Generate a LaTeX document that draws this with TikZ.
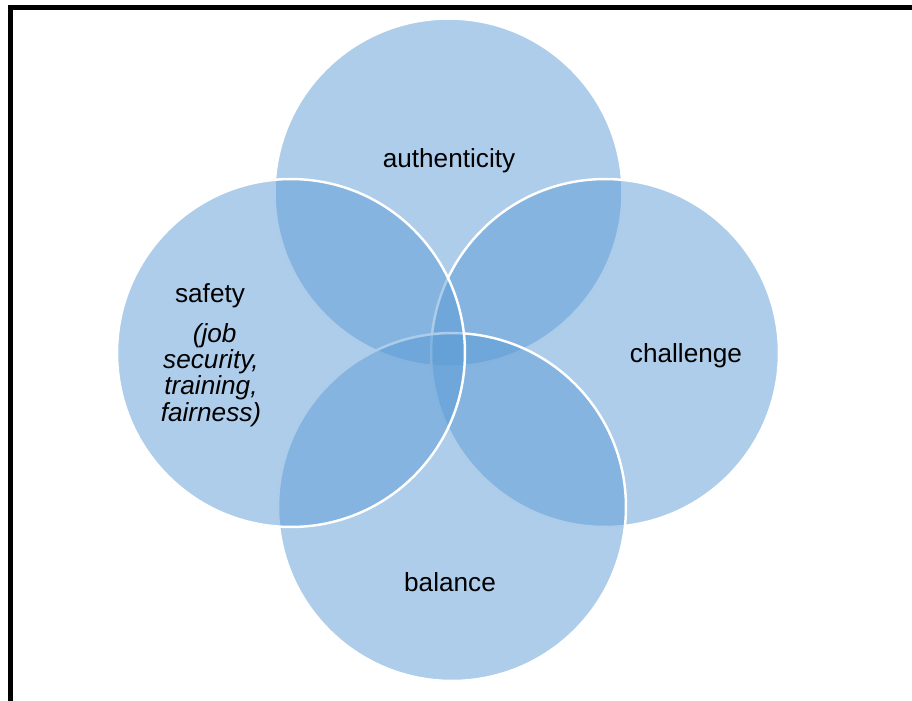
\documentclass[tikz,border=0pt]{standalone}
\usepackage{fontspec}
\setmainfont{Liberation Sans}
\usepackage{tikz}
\usetikzlibrary{positioning}

\definecolor{ringblue}{RGB}{91,155,213}

\begin{document}
\begin{tikzpicture}[x=0.02cm, y=-0.02cm,
        ring/.style={circle, minimum size=6.96cm, inner sep=0pt, fill=ringblue, fill opacity=0.5, draw=white, line width=1.4pt},
        word/.style={inner sep=0pt, font=\fontsize{14.9}{15}\selectfont}]
        \useasboundingbox (0, 0) rectangle (912, 700);
        \clip (0, 0) rectangle (912, 700);
        \draw[line width=2.8pt] (10.8, 1000) -- (10.8, 7.8) -- (1200, 7.8);
        % the four circles, top first
        \foreach \nm/\x/\y in {auth/448.5/192.5, chal/605/353, bal/452/507, safe/291/353}
        {
            \node[ring] (\nm) at (\x, \y) {};
        }
        \node[word] (authtxt) at (449, 161) {authenticity};
        \node[word] (chaltxt) at (686, 356) {challenge};
        \node[word] (baltxt) at (450, 582) {balance};
        \node[word] (safetxt) at (210, 296) {safety};
        \node[word, align=center, font=\fontsize{14.9}{15}\selectfont\itshape] (safenote) at (211, 375) {\ (job\\security,\\training,\\fairness)};
    \end{tikzpicture}
\end{document}
